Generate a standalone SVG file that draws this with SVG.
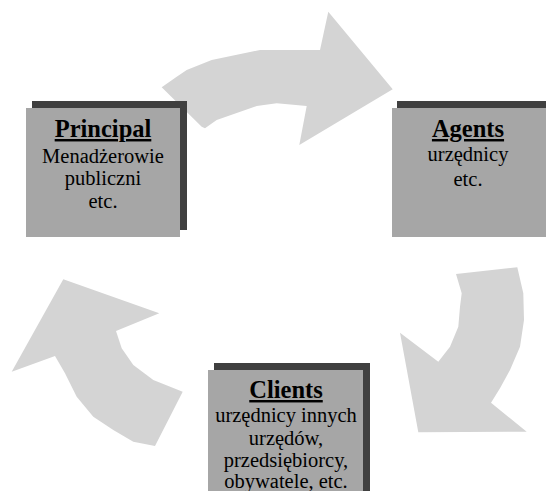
<svg xmlns="http://www.w3.org/2000/svg" width="546" height="491" viewBox="0 0 546 491">
<style>
.arrow{fill:#d4d4d4}
.shadow{fill:#404040}
.box{fill:#a6a6a6}
text{font-family:"Liberation Serif","Times New Roman",serif;fill:#000;text-anchor:middle}
.t{font-weight:bold;font-size:24.5px;text-decoration:underline}
.b{font-size:20.5px}
</style>
<rect width="546" height="491" fill="#fff"/>
<g id="connectors">
<path class="arrow" d="M161.7,87.3 L176.7,76.7 L186.7,70 L211.7,60 L260,50 L316.7,50 L320,50 L328.3,11.7 L392.7,89.3 L299.3,145 L306.7,106 L276.7,103.3 L256.7,106 L216.7,120 L205,128.3 L201.7,126.7 Z"/>
<path class="arrow" d="M456,274 L517.3,267.3 L523.3,293.3 L524,320 L520,346.7 L510,370 L500,388.3 L491,402.7 L526.7,431.7 L418.3,432.3 L400,332.7 L438.3,361.7 L450,346.7 L458.3,326.7 L460,306.7 L461.7,293.3 Z"/>
<path class="arrow" d="M63.3,279.3 L159.3,313.3 L116,331 L121.7,348.3 L133.3,365 L153.3,380 L182.7,391.7 L155,446 L133.3,441.7 L113.3,430 L93.3,416.7 L76.7,396.7 L65,373.3 L55,356 L11.7,371.7 Z"/>
</g>
<g id="principal">
<rect class="shadow" x="32" y="101" width="155" height="129"/>
<rect class="box" x="26" y="108" width="154" height="129"/>
<text class="t" x="103" y="137">Principal</text>
<text class="b" x="103" y="163">Menadżerowie</text>
<text class="b" x="103" y="185">publiczni</text>
<text class="b" x="103" y="208">etc.</text>
</g>
<g id="agents">
<rect class="shadow" x="397" y="101" width="160" height="129"/>
<rect class="box" x="392" y="108" width="160" height="129"/>
<text class="t" x="468" y="137">Agents</text>
<text class="b" x="468" y="161">urzędnicy</text>
<text class="b" x="468" y="186">etc.</text>
</g>
<g id="clients">
<rect class="shadow" x="214" y="363" width="156" height="140"/>
<rect class="box" x="208" y="370" width="155" height="140"/>
<text class="t" x="286" y="398">Clients</text>
<text class="b" x="286" y="422">urzędnicy innych</text>
<text class="b" x="286" y="445">urzędów,</text>
<text class="b" x="286" y="467">przedsiębiorcy,</text>
<text class="b" x="286" y="488">obywatele, etc.</text>
</g>
</svg>
